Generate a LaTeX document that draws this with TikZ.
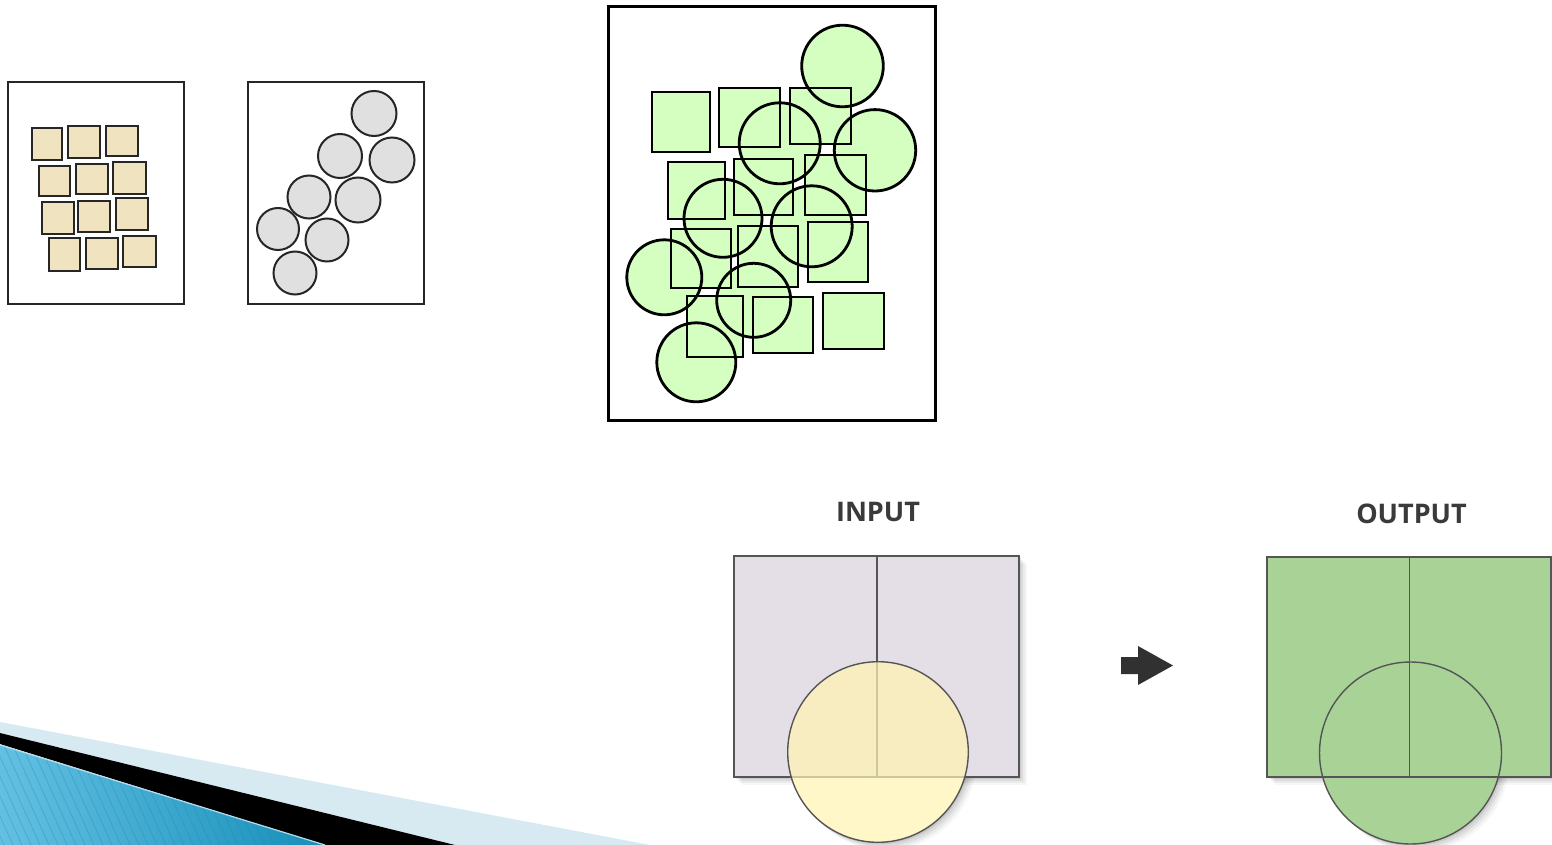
\documentclass[tikz,border=0pt]{standalone}
\usepackage{fontspec}
\newfontfamily\lblfont{Open Sans}
\usetikzlibrary{calc}
\definecolor{tanfill}{RGB}{240,228,192}
\definecolor{grayfill}{RGB}{224,224,224}
\definecolor{lgreen}{RGB}{212,255,192}
\definecolor{lavender}{RGB}{228,222,230}
\definecolor{cyellow}{RGB}{255,244,180}
\definecolor{outgreen}{RGB}{168,210,150}
\definecolor{edgegray}{RGB}{85,85,85}
\definecolor{txtgray}{RGB}{58,58,58}
\definecolor{lightband}{RGB}{215,234,242}
\definecolor{blueA}{RGB}{100,192,226}
\definecolor{blueB}{RGB}{22,142,184}
\tikzset{
  smallframe/.style={draw=black!85, line width=1.5pt, fill=white},
  tansq/.style={draw=black!85, line width=2pt, fill=tanfill},
  graycirc/.style={draw=black!85, line width=2pt, fill=grayfill},
  bigframe/.style={draw=black, line width=3pt, fill=white},
  greenfill/.style={fill=lgreen},
  greenline/.style={draw=black, line width=2.8pt},
  panelline/.style={draw=edgegray, line width=1.6pt},
  paneltitle/.style={text=txtgray, font=\lblfont\bfseries\fontsize{27}{32}\selectfont},
}
\begin{document}
\begin{tikzpicture}[x=1pt,y=-1pt]
\useasboundingbox (0,0) rectangle (1552,845);
\fill[white] (0,0) rectangle (1552,845);

% ---------- bottom-left decoration ----------
\fill[lightband] (0,722) -- (650,845) -- (455,845) -- (0,733) -- cycle;
\fill[black] (0,733) -- (455,845) -- (325,845) -- (0,744) -- cycle;
\begin{scope}
  \clip (0,745) -- (325,845) -- (0,845) -- cycle;
  \shade[left color=blueA, right color=blueB] (0,740) rectangle (330,845);
  \foreach \i in {-120,-111,...,330} {
    \draw[blueB, opacity=0.35, line width=0.8pt] (\i,730) -- (\i+52,845);
  }
\end{scope}
\draw[lightband!70!blueA, line width=1.2pt] (0,745) -- (325,845);

% ---------- small frame 1: squares ----------
\draw[smallframe] (8,82) rectangle (184,304);
\foreach \a/\b/\c/\d in {32/128/62/160, 68/126/100/158, 106/126/138/156,
  39/166/70/196, 76/164/108/194, 113/162/146/194,
  42/202/74/234, 78/201/110/232, 116/198/148/230,
  49/238/80/271, 86/238/118/269, 123/236/156/267}
  {\draw[tansq] (\a,\b) rectangle (\c,\d);}

% ---------- small frame 2: circles ----------
\draw[smallframe] (248,82) rectangle (424,304);
\foreach \x/\y/\r in {374/113.5/22.5, 340/156/22, 392/160/22.5, 309/197/21.5,
  358/200/22.5, 278/229/21, 327/240/21.5, 295/273/21.5}
  {\draw[graycirc] (\x,\y) circle[radius=\r];}

% ---------- big frame ----------
\draw[bigframe] (608,7) rectangle (935,420);
\def\sqlist{652/92/710/152, 719/88/780/147, 790/88/851/144,
  668/162/725/219, 734/159/793/215, 805/155/866/215,
  671/229/731/288, 738/226/798/287, 808/222/868/282,
  687/296/743/357, 753/297/813/353, 823/293/884/349}
\def\cilist{842.5/66/40.8, 779.7/143.3/40.5, 875/150.3/40.7, 723/218.3/39,
  811.7/226.3/40.5, 664.3/277.3/37.5, 753.7/300.3/37, 696.3/362.3/39.5}
\foreach \a/\b/\c/\d in \sqlist {\fill[greenfill] (\a,\b) rectangle (\c,\d);}
\foreach \x/\y/\r in \cilist {\fill[greenfill] (\x,\y) circle[radius=\r];}
\foreach \a/\b/\c/\d in \sqlist {\draw[greenline] (\a,\b) rectangle (\c,\d);}
\foreach \x/\y/\r in \cilist {\draw[greenline] (\x,\y) circle[radius=\r];}

% ---------- INPUT panel ----------
\node[paneltitle] (inlabel) at (878,512) {INPUT};
\foreach \o/\op in {2/0.08, 4/0.06, 6/0.05, 8/0.03} {
  \fill[black, opacity=\op] (734+\o,556+\o) rectangle (1019+\o,777+\o);
  \fill[black, opacity=\op] (878+\o,752+\o) circle[radius=90.3];
}
\fill[white] (878,752) circle[radius=90.3];
\fill[lavender] (734,556) rectangle (1019,777);
\draw[panelline] (734,556) rectangle (1019,777);
\draw[panelline] (877,556) -- (877,777);
\fill[cyellow, opacity=0.72] (878,752) circle[radius=90.3];
\draw[edgegray, line width=1.4pt] (878,752) circle[radius=90.3];

% ---------- arrow ----------
\fill[txtgray!85!black] (1121,657) -- (1138,657) -- (1138,646) -- (1173,665.5)
  -- (1138,685) -- (1138,674) -- (1121,674) -- cycle;

% ---------- OUTPUT panel ----------
\node[paneltitle] (outlabel) at (1411.5,514) {OUTPUT};
\foreach \o/\op in {2/0.08, 4/0.06, 6/0.05, 8/0.03} {
  \fill[black, opacity=\op] (1267+\o,557+\o) rectangle (1551+\o,777+\o);
  \fill[black, opacity=\op] (1410.5+\o,753+\o) circle[radius=91];
}
\fill[outgreen] (1267,557) rectangle (1551,777);
\fill[outgreen] (1410.5,753) circle[radius=91];
\draw[panelline] (1267,557) rectangle (1551,777);
\draw[panelline] (1409.5,557) -- (1409.5,777);
\draw[edgegray, line width=1.4pt] (1410.5,753) circle[radius=91];
\end{tikzpicture}
\end{document}
